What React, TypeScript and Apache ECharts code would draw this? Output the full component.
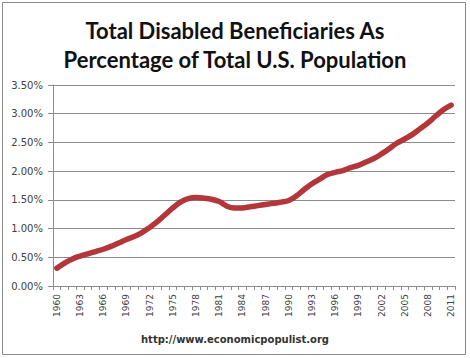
import React, { useEffect, useRef } from "react";
import * as echarts from "echarts";

const years: string[] = [];
for (let y = 1960; y <= 2011; y++) years.push(String(y));

const percentValues: number[] = [
  0.31, 0.40, 0.47, 0.52, 0.56, 0.60, 0.64, 0.69, 0.75, 0.81,
  0.86, 0.93, 1.02, 1.12, 1.24, 1.36, 1.46, 1.52, 1.54, 1.53,
  1.51, 1.47, 1.39, 1.36, 1.36, 1.38, 1.40, 1.42, 1.44, 1.46,
  1.49, 1.57, 1.68, 1.78, 1.86, 1.94, 1.98, 2.01, 2.06, 2.10,
  2.16, 2.22, 2.30, 2.39, 2.49, 2.56, 2.64, 2.74, 2.84, 2.96,
  3.07, 3.15,
];

const titleLines = ["Total Disabled Beneficiaries As", "Percentage of Total U.S. Population"];
const footerText = "http://www.economicpopulist.org";

export default function App() {
  const ref = useRef<HTMLDivElement>(null);
  useEffect(() => {
    if (!ref.current) return;
    const chart = echarts.init(ref.current, null, { renderer: "svg" });
    chart.setOption({
      animation: false,
      backgroundColor: "#ffffff",
      title: {
        text: titleLines.join("\n"),
        left: "center",
        top: 11,
        textStyle: {
          fontFamily: "Lato",
          fontWeight: "bold",
          fontSize: 22,
          lineHeight: 29,
          color: "#111111",
        },
      },
      graphic: [
        {
          type: "rect",
          shape: { x: 2.5, y: 2.5, width: 463, height: 352 },
          style: { fill: "none", stroke: "#8a8a8a", lineWidth: 1 },
          silent: true,
        },
        {
          type: "text",
          left: "center",
          top: 334,
          style: {
            text: footerText,
            fontFamily: "DejaVu Sans",
            fontWeight: "bold",
            fontSize: 10,
            fill: "#333333",
          },
        },
      ],
      grid: { left: 53, right: 15, top: 85, bottom: 72 },
      xAxis: {
        type: "category",
        data: years,
        boundaryGap: true,
        axisLine: { lineStyle: { color: "#8c8c8c", width: 1 } },
        axisTick: { show: true, interval: 0, length: 4, lineStyle: { color: "#8c8c8c" } },
        axisLabel: {
          interval: 2,
          rotate: 90,
          fontFamily: "DejaVu Sans",
          fontSize: 9,
          color: "#404040",
          margin: 8,
        },
        splitLine: { show: false },
      },
      yAxis: {
        type: "value",
        min: 0,
        max: 3.5,
        interval: 0.5,
        axisLine: { show: true, lineStyle: { color: "#8c8c8c", width: 1 } },
        axisTick: { show: true, length: 5, lineStyle: { color: "#8c8c8c" } },
        axisLabel: {
          formatter: (v: number) => v.toFixed(2) + "%",
          fontFamily: "DejaVu Sans",
          fontSize: 10,
          color: "#404040",
          margin: 10,
        },
        splitLine: { show: true, lineStyle: { color: "#8c8c8c", width: 1 } },
      },
      series: [
        {
          type: "line",
          data: percentValues,
          smooth: 0.4,
          symbol: "none",
          lineStyle: { color: "#b2363a", width: 5.5, cap: "round" },
        },
      ],
    });
    return () => chart.dispose();
  }, []);
  return (
    <div
      ref={ref}
      style={{ position: "fixed", left: 0, top: 0, width: 470, height: 358 }}
    />
  );
}
